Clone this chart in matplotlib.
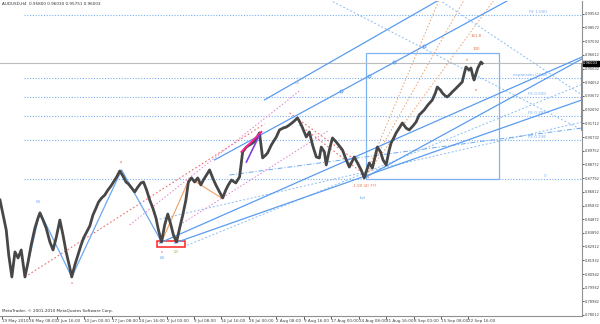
import matplotlib
matplotlib.use("Agg")
import matplotlib.pyplot as plt
from matplotlib.patches import Rectangle

# AUDUSD H4, sampled closes (bar index, price)
bars = [0, 5, 10, 14, 19, 24, 29, 34, 40, 45, 50, 56, 61, 64, 69, 74, 80, 85, 90, 96,
        101, 106, 112, 115, 120, 125, 130, 134, 139, 144, 149, 154, 158, 163, 168, 173, 178, 182, 187, 192,
        197, 202, 206, 211, 216, 221, 226, 230, 235, 240, 245, 250, 254, 259, 264, 269, 274, 278, 283, 288,
        293, 298, 302, 307, 312, 317, 322, 326, 331, 336, 341, 346, 352, 357, 362, 366, 371, 378, 384, 389,
        395, 400, 405, 410, 416, 421, 426, 429, 435, 443, 448, 454, 459, 464, 470, 477, 483, 491, 496, 501,
        507, 512, 515, 520, 523, 528, 533, 539, 544, 549, 555, 560, 568, 573, 579, 584, 589, 592, 597, 602,
        605, 610, 614, 619, 624, 627, 632, 635, 640, 645, 651, 656, 662, 667, 672, 680, 686, 693, 698, 701,
        706, 709, 714, 717, 722, 725, 730, 733, 738, 741, 744, 747, 752, 755, 758, 760, 763, 766, 771, 773]
closes = [0.8623, 0.8516, 0.8409, 0.8230, 0.8073, 0.8252, 0.8209, 0.8266, 0.8073, 0.8180,
          0.8302, 0.8423, 0.8495, 0.8531, 0.8480, 0.8423, 0.8323, 0.8266, 0.8352, 0.8480,
          0.8373, 0.8252, 0.8137, 0.8073, 0.8159, 0.8230, 0.8302, 0.8352, 0.8395, 0.8438,
          0.8516, 0.8566, 0.8609, 0.8638, 0.8659, 0.8695, 0.8724, 0.8752, 0.8788, 0.8831,
          0.8795, 0.8752, 0.8738, 0.8709, 0.8681, 0.8716, 0.8745, 0.8752, 0.8695, 0.8623,
          0.8566, 0.8495, 0.8409, 0.8323, 0.8445, 0.8523, 0.8445, 0.8373, 0.8323, 0.8423,
          0.8516, 0.8623, 0.8752, 0.8781, 0.8752, 0.8781, 0.8731, 0.8766, 0.8802, 0.8838,
          0.8781, 0.8731, 0.8681, 0.8638, 0.8695, 0.8731, 0.8766, 0.8745, 0.8788, 0.8967,
          0.9002, 0.9017, 0.9031, 0.9052, 0.9103, 0.8924, 0.8945, 0.8960, 0.9017, 0.9074,
          0.9124, 0.9138, 0.9145, 0.9160, 0.9181, 0.9210, 0.9160, 0.9074, 0.9110, 0.9017,
          0.8931, 0.8924, 0.9002, 0.8967, 0.8874, 0.8981, 0.9067, 0.9038, 0.9010, 0.8981,
          0.8910, 0.8859, 0.8931, 0.8888, 0.8838, 0.8781, 0.8852, 0.8888, 0.8852, 0.8945,
          0.9002, 0.8967, 0.8910, 0.8874, 0.8981, 0.9031, 0.9074, 0.9103, 0.9138, 0.9174,
          0.9138, 0.9124, 0.9153, 0.9181, 0.9231, 0.9267, 0.9303, 0.9338, 0.9389, 0.9431,
          0.9410, 0.9389, 0.9367, 0.9360, 0.9381, 0.9396, 0.9417, 0.9431, 0.9453, 0.9467,
          0.9524, 0.9574, 0.9553, 0.9567, 0.9510, 0.9481, 0.9524, 0.9567, 0.9610, 0.9600]

last_price = 0.96003
y_ticks = [0.78012, 0.78982, 0.79962, 0.80942, 0.81932, 0.82912, 0.83892, 0.84872, 0.85832,
           0.86812, 0.87792, 0.88772, 0.89752, 0.90732, 0.91712, 0.92692, 0.93672, 0.94652,
           0.95632, 0.96612, 0.97592, 0.98572, 0.99552]
x_tick_bars = [3 + 44 * i for i in range(18)]
x_tick_labels = ["19 May 2010", "26 May 08:00", "2 Jun 16:00", "10 Jun 00:00", "17 Jun 08:00",
                 "24 Jun 16:00", "2 Jul 00:00", "9 Jul 08:00", "16 Jul 16:00", "26 Jul 00:00",
                 "2 Aug 08:00", "9 Aug 16:00", "17 Aug 00:00", "24 Aug 08:00", "31 Aug 16:00",
                 "8 Sep 00:00", "15 Sep 08:00", "22 Sep 16:00"]

# fibonacci expansion
fib_low, fib_high = 0.8774, 0.9946
fib_levels = [0.0, 0.236, 0.382, 0.5, 0.618, 1.0]
fib_names = ["0", "FE 0.236", "FE 0.382", "FE 0.500", "expansion 0.618", "FE 1.000"]

# elliott wave zigzag (blue) and sub waves (orange)
wave_bars = [40, 64, 115, 195, 259]
wave_prices = [0.8073, 0.8538, 0.8073, 0.8838, 0.8323]
sub_bars = [259, 304, 355]
sub_prices = [0.8323, 0.8781, 0.8638]

# drawn lines, two anchors each (bar, price)
blue_lines = [((256, 0.8316), (933, 0.9646)),
              ((280, 0.8316), (933, 0.9339)),
              ((584, 0.8781), (933, 0.9632)),
              ((344, 0.8910), (816, 1.0054)),
              ((424, 0.9339), (704, 1.0054))]
blue_dashed = [((368, 0.8802), (933, 0.9138))]
blue_dotted = [((300, 0.8300), (933, 0.9450)),
               ((250, 0.8480), (933, 0.9180)),
               ((704, 1.0054), (933, 0.9374)),
               ((528, 1.0054), (933, 0.9124))]
red_dotted = [((40, 0.8073), (424, 0.9167)),
              ((464, 0.9246), (576, 0.8888)),
              ((480, 0.9160), (592, 0.8780))]
pink_dotted = [((208, 0.8445), (480, 0.9403)),
               ((293, 0.8459), (528, 0.9124))]
orange_fan = [((584, 0.8781), (704, 1.0054)),
              ((584, 0.8781), (744, 1.0054)),
              ((584, 0.8781), (792, 1.0054))]
pink_lines = [((387, 0.8967), (419, 0.9110))]
purple_lines = [((395, 0.8895), (416, 0.9088))]
marker_bars = [547, 592, 632, 680]

box = (587, 800, 0.8774, 0.9675)
red_box = (251, 296, 0.8287, 0.8330)

# wave labels (bar, price, text, colour)
labels = [(61, 0.8609, "(3)", "#5a9cf0"), (115, 0.8030, "v", "#e05050"),
          (194, 0.8895, "a", "#e07040"), (259, 0.8252, "v", "#e05050"),
          (261, 0.8209, "(4)", "#5a9cf0"), (283, 0.8252, "(2)", "#90b040"),
          (477, 0.9460, "(5)", "#8aa0c0"), (584, 0.8724, "-1.00 (4) ???", "#e07040"),
          (581, 0.8640, "(iv)", "#5a9cf0"), (749, 0.9624, "iii", "#e07040"),
          (763, 0.9410, "iv", "#e07040"), (763, 0.9796, "161.8", "#e07040"),
          (763, 0.9700, "100", "#e07040")]

fs = 3.0
fig = plt.figure(figsize=(6, 3.24), dpi=100)
ax = fig.add_axes([0.0, 8 / 324, 582 / 600, 315 / 324])
ax.set_xlim(0, 933)
ax.set_ylim(0.7794, 1.0046)

lb = "#78aef0"
for lv, nm in zip(fib_levels, fib_names):
    p = fib_low + lv * (fib_high - fib_low)
    ax.plot([38, 933], [p, p], ls=(0, (1, 1.5)), color=lb, lw=0.8)
    ax.text(876, p + 0.0006, nm, color=lb, fontsize=fs, ha="right", va="bottom")

ax.axhline(last_price, color="#bdbdbd", lw=0.8)

def seg(pairs, **kw):
    for (a, b) in pairs:
        ax.plot([a[0], b[0]], [a[1], b[1]], **kw)

seg(blue_dotted, ls=(0, (2, 2)), color="#8cbcf2", lw=0.7)
seg(blue_dashed, ls=(0, (5, 2, 1, 2)), color="#6aa8f0", lw=0.7)
seg(red_dotted, ls=(0, (1.5, 2)), color="#f07070", lw=0.8)
seg(pink_dotted, ls=(0, (1.5, 2)), color="#e080d0", lw=0.7)
seg(orange_fan, ls=(0, (1.5, 2)), color="#e6a070", lw=0.7)
seg(blue_lines, color="#5a9cf0", lw=0.9)

# markers on the upper channel line
(ua, ub) = blue_lines[3]
mk_p = [ua[1] + (m - ua[0]) * (ub[1] - ua[1]) / (ub[0] - ua[0]) for m in marker_bars]
ax.plot(marker_bars, mk_p, "o", ms=2.2, mfc="none", mec="#5a9cf0", mew=0.6)

ax.plot(wave_bars, wave_prices, color="#6aa8f0", lw=0.9)
ax.plot(sub_bars, sub_prices, color="#f0a060", lw=0.8)

ax.add_patch(Rectangle((box[0], box[2]), box[1] - box[0], box[3] - box[2],
                       fill=False, ec="#80b4f0", lw=0.9))
ax.add_patch(Rectangle((red_box[0], red_box[2]), red_box[1] - red_box[0], red_box[3] - red_box[2],
                       fill=False, ec="#ff2020", lw=1.1))

ax.plot(bars, closes, color="#474747", lw=2.0)

seg(pink_lines, color="#ff2090", lw=1.4)
seg(purple_lines, color="#8040e0", lw=1.2)

for b, p, t, c in labels:
    ax.text(b, p, t, color=c, fontsize=2.8, ha="center", va="center")

ax.text(0.004, 0.997, "AUDUSD,H4  0.95800 0.96030 0.95751 0.96003", transform=ax.transAxes,
        fontsize=fs, color="#303030", va="top", ha="left")
ax.text(0.004, 0.008, "MetaTrader, \u00a9 2001-2010 MetaQuotes Software Corp.", transform=ax.transAxes,
        fontsize=fs, color="#303030", va="bottom", ha="left")

ax.yaxis.tick_right()
ax.set_yticks(y_ticks)
ax.set_yticklabels(["%.5f" % v for v in y_ticks])
ax.tick_params(axis="y", direction="out", length=1.5, width=0.6, pad=0.6, labelsize=2.6,
               colors="#404040")
ax.set_xticks(x_tick_bars)
ax.set_xticklabels(x_tick_labels)
ax.tick_params(axis="x", direction="out", length=2, width=0.6, pad=0.3, labelsize=fs,
               colors="#404040")
for t in ax.get_xticklabels():
    t.set_ha("left")
for s in ax.spines.values():
    s.set_color("#909090")
    s.set_linewidth(0.8)
ax.spines["top"].set_visible(False)
ax.spines["left"].set_visible(False)

# olive marker on the price scale
ax.plot([1.0, 1.0], [0.9124, 0.9596], transform=ax.get_yaxis_transform(), color="#8a9a3a",
        lw=1.4, clip_on=False)

ax.text(1.002, last_price, "%.5f" % last_price, transform=ax.get_yaxis_transform(),
        fontsize=2.6, color="white", va="center", ha="left",
        bbox=dict(boxstyle="square,pad=0.15", fc="black", ec="black"))

fig.savefig("out.png", dpi=100)
